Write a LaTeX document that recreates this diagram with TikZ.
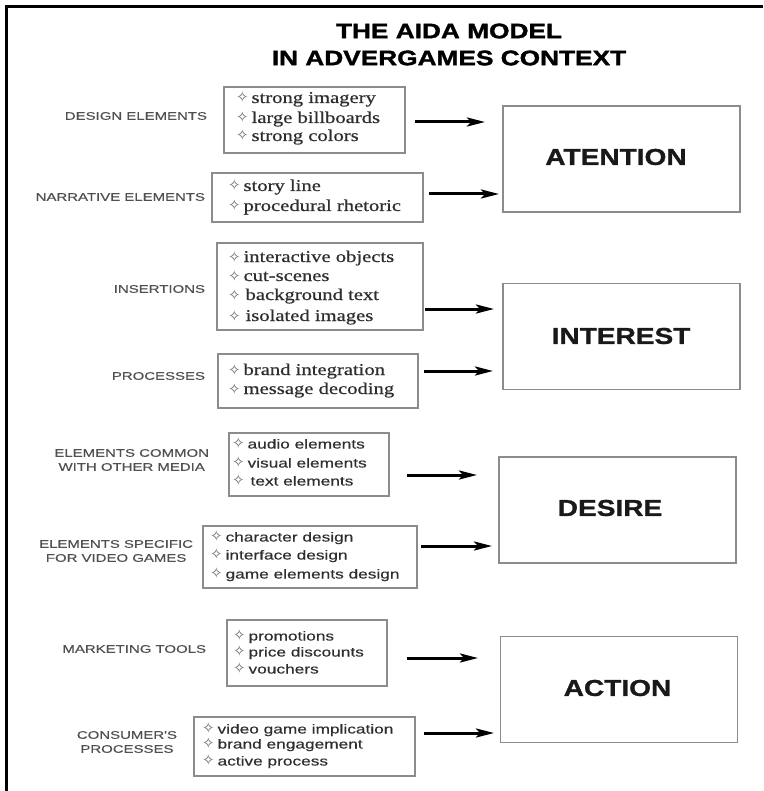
\documentclass[tikz,border=0pt]{standalone}
\usepackage{fontspec}
\setmainfont{Liberation Serif}
\newfontfamily\titlefont[FakeStretch=1.25,FakeBold=1.6]{Liberation Sans}
\newfontfamily\labfont[FakeStretch=1.36,FakeBold=0.3]{Liberation Sans}
\newfontfamily\seritem[FakeStretch=1.25,FakeBold=0.6]{Liberation Serif}
\newfontfamily\sansitem[FakeStretch=1.33,FakeBold=0.3]{Liberation Sans}
\newfontfamily\bigfont[FakeStretch=1.22,FakeBold=1.2]{Liberation Sans}
\newfontfamily\symfont{DejaVu Sans}
\usetikzlibrary{arrows.meta}
\definecolor{boxgray}{HTML}{8C8C8C}
\definecolor{labgray}{HTML}{505050}
\definecolor{itemgray}{HTML}{2E2E2E}
\definecolor{bulgray}{HTML}{6A6A6A}
\newcommand\bul{{\symfont\fontsize{15}{15}\selectfont\color{bulgray}✧}\hspace{3pt}}
\begin{document}
\begin{tikzpicture}[x=1pt,y=-1pt,
  every node/.style={inner sep=0pt, outer sep=0pt},
  frame/.style={line width=3pt, black},
  itembox/.style={draw=boxgray, line width=1.3pt, anchor=north west},
  bigbox/.style={draw=boxgray, line width=1.5pt, minimum width=237pt, minimum height=106pt},
  lab/.style={font=\labfont\fontsize{11}{14}\selectfont, text=labgray, align=center, anchor=east},
  ser/.style={font=\seritem\fontsize{16.5}{19}\selectfont, text=itemgray, anchor=base west},
  san/.style={font=\sansitem\fontsize{13}{17}\selectfont, text=itemgray, anchor=base west},
  big/.style={font=\bigfont\bfseries\fontsize{23}{23}\selectfont, text=black!90},
  ttl/.style={font=\titlefont\bfseries\fontsize{21}{21}\selectfont},
  arr/.style={line width=3pt, -{Stealth[length=18pt,width=9pt,inset=4pt]}}]
\useasboundingbox (0,0) rectangle (763,791);
\fill[white] (0,0) rectangle (763,791);
% frame
\draw[frame] (763,7) -- (6.5,7) -- (6.5,791);
% title
\node[ttl] (title1) at (449,31) {THE AIDA MODEL};
\node[ttl] (title2) at (449,58) {IN ADVERGAMES CONTEXT};
% left labels
\node[lab] (l1) at (207,116) {DESIGN ELEMENTS};
\node[lab] (l2) at (205,197) {NARRATIVE ELEMENTS};
\node[lab] (l3) at (205,289) {INSERTIONS};
\node[lab] (l4) at (205,376) {PROCESSES};
\node[lab] (l5) at (209,460) {ELEMENTS COMMON\\WITH OTHER MEDIA};
\node[lab] (l6) at (193,551) {ELEMENTS SPECIFIC\\FOR VIDEO GAMES};
\node[lab] (l7) at (206,649) {MARKETING TOOLS};
\node[lab] (l8) at (177,742) {CONSUMER'S\\PROCESSES};
% item boxes
\node[itembox, minimum width=181pt, minimum height=66pt] (b1) at (224,87) {};
\node[itembox, minimum width=211pt, minimum height=49pt] (b2) at (212,173) {};
\node[itembox, minimum width=206pt, minimum height=87pt] (b3) at (217,243) {};
\node[itembox, minimum width=200pt, minimum height=54pt] (b4) at (218,354) {};
\node[itembox, minimum width=160pt, minimum height=63pt] (b5) at (229,433) {};
\node[itembox, minimum width=214pt, minimum height=62pt] (b6) at (203,526) {};
\node[itembox, minimum width=160pt, minimum height=66pt] (b7) at (227,620) {};
\node[itembox, minimum width=221pt, minimum height=59pt] (b8) at (194,717) {};
% item texts
\node[ser] (t1a) at (236,103) {\bul strong imagery};
\node[ser] (t1b) at (236,123) {\bul large billboards};
\node[ser] (t1c) at (236,141) {\bul strong colors};
\node[ser] (t2a) at (228,191) {\bul story line};
\node[ser] (t2b) at (228,211) {\bul procedural rhetoric};
\node[ser] (t3a) at (228,262) {\bul interactive objects};
\node[ser] (t3b) at (228,281) {\bul cut-scenes};
\node[ser] (t3c) at (228,300) {\bul\hspace{2pt}background text};
\node[ser] (t3d) at (228,321) {\bul\hspace{2pt}isolated images};
\node[ser] (t4a) at (228,375) {\bul brand integration};
\node[ser] (t4b) at (228,394) {\bul message decoding};
\node[san] (t5a) at (232,448.5) {\bul audio elements};
\node[san] (t5b) at (232,467.5) {\bul visual elements};
\node[san] (t5c) at (232,485.5) {\bul\hspace{3pt}text elements};
\node[san] (t6a) at (210,541.5) {\bul character design};
\node[san] (t6b) at (210,559.5) {\bul interface design};
\node[san] (t6c) at (210,578.5) {\bul game elements design};
\node[san] (t7a) at (233,640.5) {\bul promotions};
\node[san] (t7b) at (233,656.5) {\bul price discounts};
\node[san] (t7c) at (233,673.5) {\bul vouchers};
\node[san] (t8a) at (202,733.5) {\bul video game implication};
\node[san] (t8b) at (202,748.5) {\bul brand engagement};
\node[san] (t8c) at (202,765.5) {\bul active process};
% AIDA boxes
\node[bigbox] (att) at (621.5,159) {};
\node[big] (attl) at (616,157) {ATENTION};
\node[bigbox] (int) at (621.5,336.5) {};
\node[big] (intl) at (621,336) {INTEREST};
\node[bigbox] (des) at (617.5,510) {};
\node[big] (desl) at (610,508) {DESIRE};
\node[bigbox] (act) at (619,689.5) {};
\node[big] (actl) at (617.5,688) {ACTION};
% arrows
\coordinate (a1s) at (415,122); \coordinate (a1e) at (485,122);
\coordinate (a2s) at (429,194); \coordinate (a2e) at (499,194);
\coordinate (a3s) at (425,309); \coordinate (a3e) at (494,309);
\coordinate (a4s) at (424,371); \coordinate (a4e) at (493,371);
\coordinate (a5s) at (407,475); \coordinate (a5e) at (477,475);
\coordinate (a6s) at (421,546); \coordinate (a6e) at (492,546);
\coordinate (a7s) at (407,658); \coordinate (a7e) at (478,658);
\coordinate (a8s) at (424,733); \coordinate (a8e) at (494,733);
\foreach \i in {1,...,8} \draw[arr] (a\i s) -- (a\i e);
\end{tikzpicture}
\end{document}
